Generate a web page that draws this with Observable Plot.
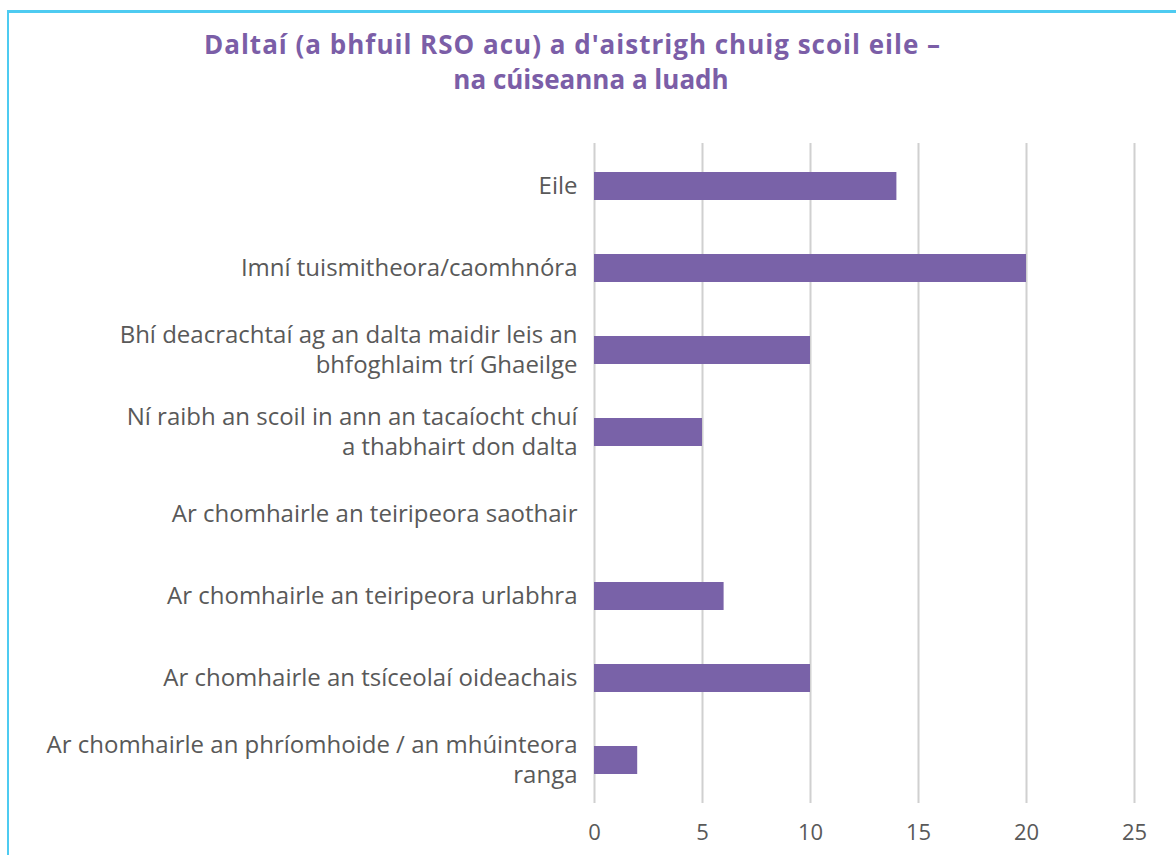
<!DOCTYPE html>
<html>
<head>
<meta charset="utf-8">
<script src="https://cdn.jsdelivr.net/npm/d3@7"></script>
<script src="https://cdn.jsdelivr.net/npm/@observablehq/plot@0.6"></script>
<style>
  html, body { margin: 0; padding: 0; background: #fff; overflow: hidden; }
  #wrap { position: relative; width: 1176px; height: 855px; }
  #frame { position: absolute; left: 7px; top: 10px; width: 1200px; height: 900px;
           border-left: 2px solid #4ECBF1; border-top: 3px solid #4ECBF1; }
  .tline { position: absolute; text-align: center; white-space: nowrap;
           font-family: "Open Sans", sans-serif; font-weight: 700; font-size: 26px; line-height: 36px;
           color: #7B5EA7; }
  #t1 { left: 0; width: 1145px; top: 26px; letter-spacing: 1px; }
  #t2 { left: 0; width: 1182px; top: 61px; }
  #chart { position: absolute; left: 0; top: 0; }
</style>
</head>
<body>
<div id="wrap">
  <div id="frame"></div>
  <div id="chart"></div>
  <div class="tline" id="t1">Daltaí (a bhfuil RSO acu) a d'aistrigh chuig scoil eile –</div>
  <div class="tline" id="t2">na cúiseanna a luadh</div>
</div>
<script>
const categories = [
  "Eile",
  "Imní tuismitheora/caomhnóra",
  "Bhí deacrachtaí ag an dalta maidir leis an\nbhfoghlaim trí Ghaeilge",
  "Ní raibh an scoil in ann an tacaíocht chuí\na thabhairt don dalta",
  "Ar chomhairle an teiripeora saothair",
  "Ar chomhairle an teiripeora urlabhra",
  "Ar chomhairle an tsíceolaí oideachais",
  "Ar chomhairle an phríomhoide / an mhúinteora\nranga"
];
const values = [14, 20, 10, 5, 0, 6, 10, 2];
const xTicks = [0, 5, 10, 15, 20, 25];

const data = categories.map((c, i) => ({category: c, value: values[i]}));

const chart = Plot.plot({
  width: 1176,
  height: 855,
  marginLeft: 594,
  marginRight: 42,
  marginTop: 143,
  marginBottom: 52,
  style: {fontFamily: "'Open Sans', sans-serif", fontSize: "24px", color: "#595959", background: "transparent"},
  x: {domain: [0, 25], ticks: xTicks},
  y: {domain: categories, paddingInner: 0.66, paddingOuter: 0.33, label: null},
  marks: [
    Plot.gridX(xTicks, {stroke: "#d0d0d0", strokeOpacity: 1, strokeWidth: 2}),
    Plot.barX(data, {y: "category", x: "value", fill: "#7962A8"}),
    Plot.axisX(xTicks, {tickSize: 0, tickPadding: 21, label: null, fontSize: 22, fill: "#595959"}),
    Plot.axisY({tickSize: 0, tickPadding: 17, label: null, fontSize: 24, lineHeight: 1.25, fill: "#595959", dy: -2})
  ]
});
document.getElementById("chart").appendChild(chart);
</script>
</body>
</html>
